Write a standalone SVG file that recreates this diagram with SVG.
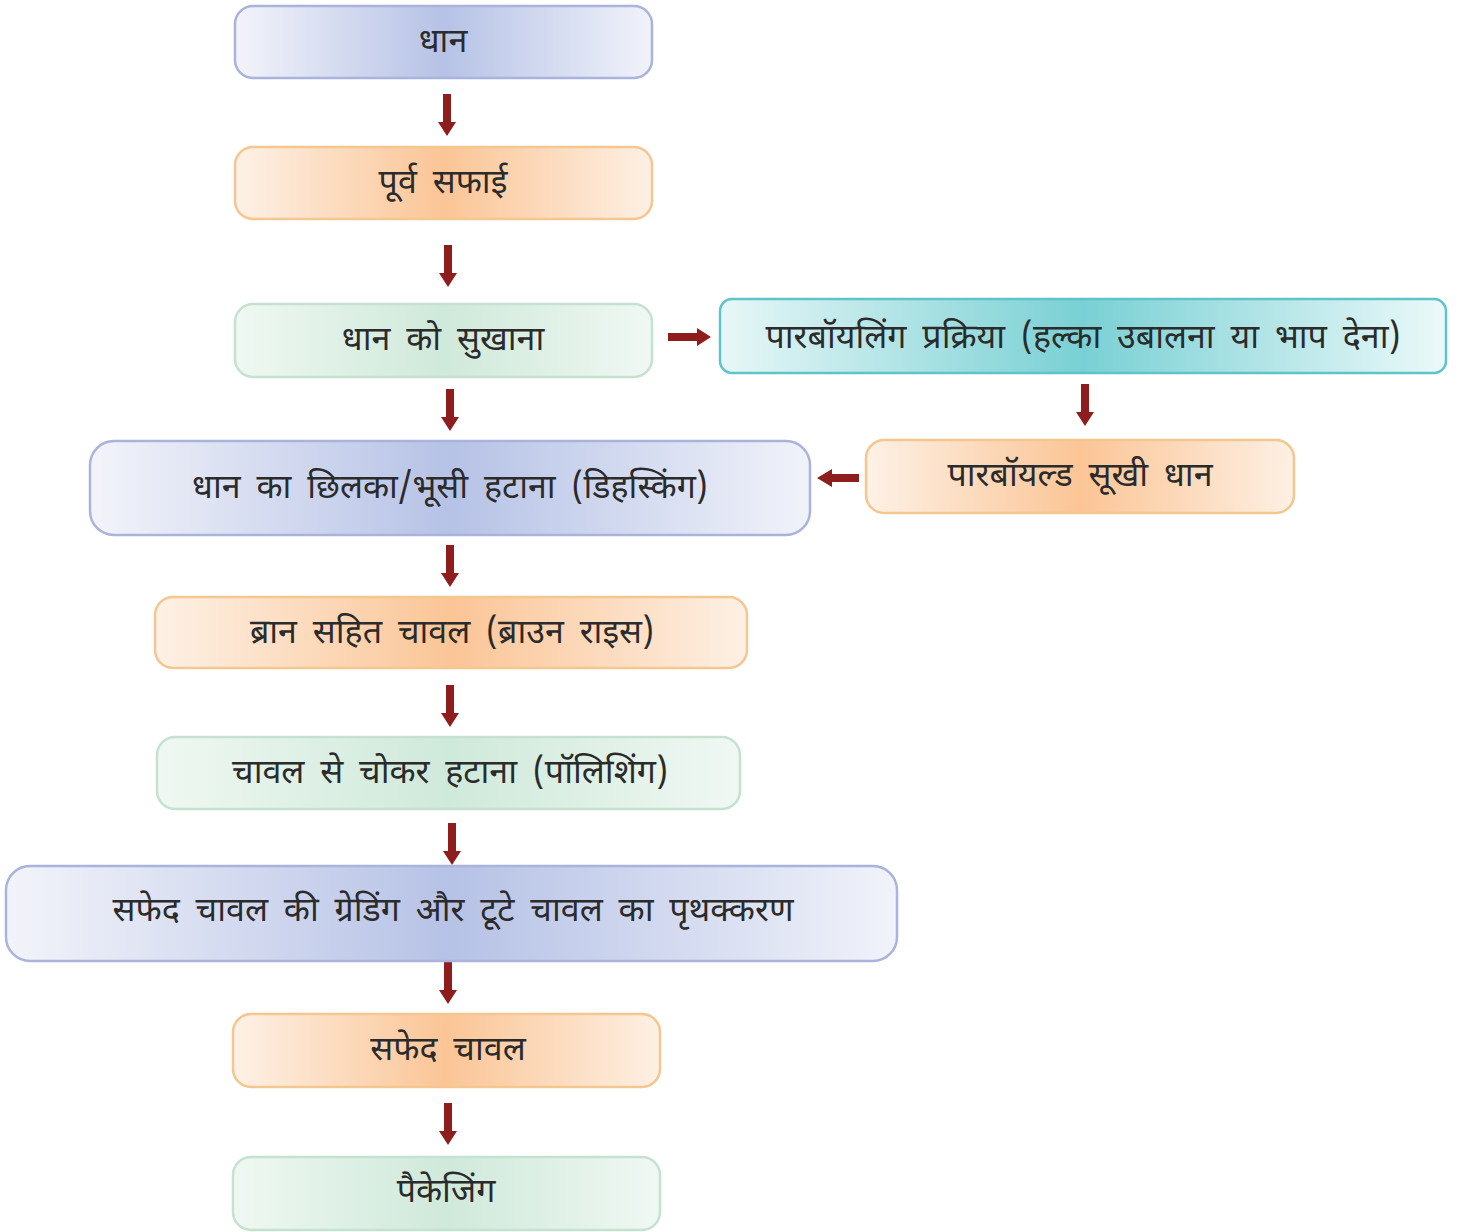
<svg xmlns="http://www.w3.org/2000/svg" width="1461" height="1232" viewBox="0 0 1461 1232">
<style>
text{font-family:"Noto Sans Devanagari","Noto Sans","Lohit Devanagari","FreeSans",sans-serif;font-size:34px;fill:#2b2b2b;text-anchor:middle;dominant-baseline:central;word-spacing:7px}
.blue{fill:url(#gBlue);stroke:#a9b3dc;stroke-width:2.5}
.orange{fill:url(#gOrange);stroke:#f4c690;stroke-width:2.5}
.green{fill:url(#gGreen);stroke:#c5e2d0;stroke-width:2.5}
.teal{fill:url(#gTeal);stroke:#5fc4c9;stroke-width:2.5}
.arr{fill:#8e1d1d}
</style>
<defs>
<linearGradient id="gBlue" x1="0" y1="0" x2="1" y2="0">
<stop offset="0" stop-color="#f3f4fa"/><stop offset="0.5" stop-color="#b6c2e6"/><stop offset="1" stop-color="#f1f3fa"/>
</linearGradient>
<linearGradient id="gOrange" x1="0" y1="0" x2="1" y2="0">
<stop offset="0" stop-color="#fdf1e6"/><stop offset="0.5" stop-color="#fbc596"/><stop offset="1" stop-color="#fdf0e4"/>
</linearGradient>
<linearGradient id="gGreen" x1="0" y1="0" x2="1" y2="0">
<stop offset="0" stop-color="#eff8f2"/><stop offset="0.5" stop-color="#cfe9da"/><stop offset="1" stop-color="#f0f8f3"/>
</linearGradient>
<linearGradient id="gTeal" x1="0" y1="0" x2="1" y2="0">
<stop offset="0" stop-color="#e8f7f7"/><stop offset="0.5" stop-color="#79d0d4"/><stop offset="1" stop-color="#ecf9f9"/>
</linearGradient>
<path id="aDown" d="M-4,0 H4 V28 H9 L0,42 L-9,28 H-4 Z"/>
</defs>
<g id="connectors">
<use href="#aDown" class="arr" x="447" y="94"/>
<use href="#aDown" class="arr" x="448" y="245"/>
<use href="#aDown" class="arr" x="450" y="389"/>
<use href="#aDown" class="arr" x="1085" y="384"/>
<use href="#aDown" class="arr" x="450" y="545"/>
<use href="#aDown" class="arr" x="450" y="685"/>
<use href="#aDown" class="arr" x="452" y="823"/>
<use href="#aDown" class="arr" x="448" y="962"/>
<use href="#aDown" class="arr" x="448" y="1103"/>
<path class="arr" d="M668,333 H697 V328 L711,337 L697,346 V341 H668 Z"/>
<path class="arr" d="M859,474 H832 V469 L817,478 L832,487 V482 H859 Z"/>
</g>
<g id="n1"><rect class="blue" x="235" y="6" width="417" height="72" rx="18"/><text x="443" y="44">धान</text></g>
<g id="n2"><rect class="orange" x="235" y="147" width="417" height="72" rx="18"/><text x="443" y="185">पूर्व सफाई</text></g>
<g id="n3"><rect class="green" x="235" y="304" width="417" height="73" rx="18"/><text x="443" y="342">धान को सुखाना</text></g>
<g id="n4"><rect class="teal" x="720" y="299" width="726" height="74" rx="12"/><text x="1083" y="340">पारबॉयलिंग प्रक्रिया (हल्का उबालना या भाप देना)</text></g>
<g id="n5"><rect class="orange" x="866" y="440" width="428" height="73" rx="18"/><text x="1080" y="478">पारबॉयल्ड सूखी धान</text></g>
<g id="n6"><rect class="blue" x="90" y="441" width="720" height="94" rx="24"/><text x="450" y="490">धान का छिलका/भूसी हटाना (डिहस्किंग)</text></g>
<g id="n7"><rect class="orange" x="155" y="597" width="592" height="71" rx="18"/><text x="452" y="635">ब्रान सहित चावल (ब्राउन राइस)</text></g>
<g id="n8"><rect class="green" x="157" y="737" width="583" height="72" rx="18"/><text x="450" y="775">चावल से चोकर हटाना (पॉलिशिंग)</text></g>
<g id="n9"><rect class="blue" x="6" y="866" width="891" height="95" rx="24"/><text x="453" y="913">सफेद चावल की ग्रेडिंग और टूटे चावल का पृथक्करण</text></g>
<g id="n10"><rect class="orange" x="233" y="1014" width="427" height="73" rx="18"/><text x="448" y="1052">सफेद चावल</text></g>
<g id="n11"><rect class="green" x="233" y="1157" width="427" height="73" rx="18"/><text x="446" y="1194">पैकेजिंग</text></g>
</svg>
